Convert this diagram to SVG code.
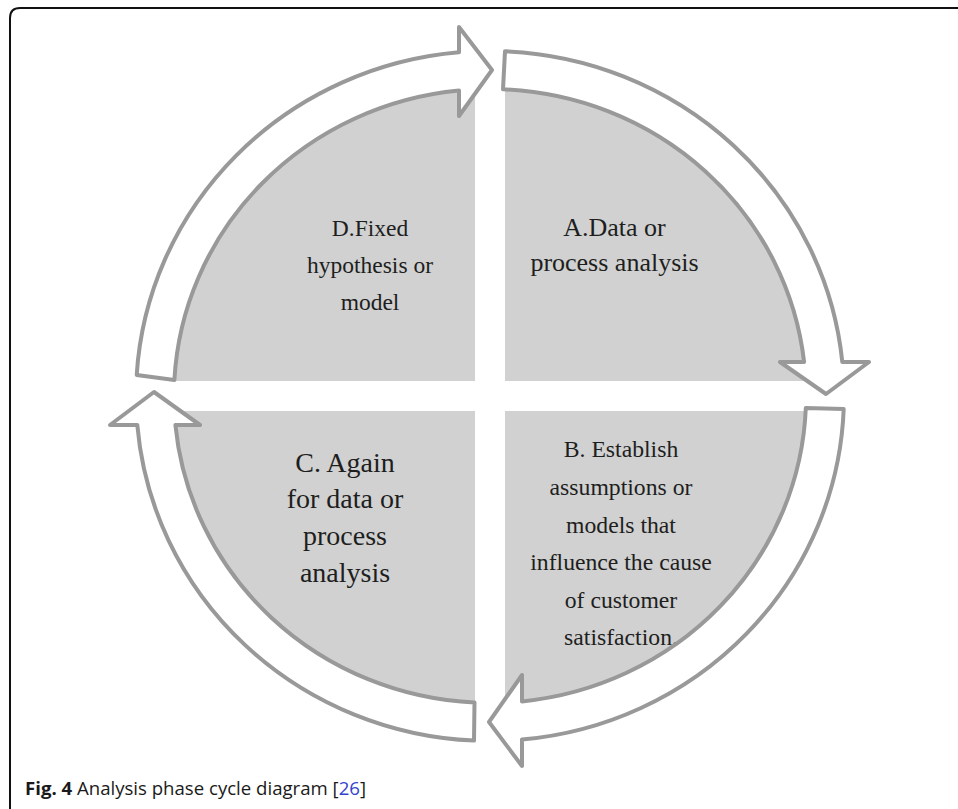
<svg xmlns="http://www.w3.org/2000/svg" width="958" height="809" viewBox="0 0 958 809">
<style>
.quad{fill:#d0d1d0;stroke:none}
.arrow{fill:#ffffff;stroke:#999999;stroke-width:4;stroke-linejoin:round}
.lbl{font-family:"Liberation Serif","Times New Roman",serif;fill:#1e1e1e;text-anchor:middle}
.cap{font-family:"Open Sans","Noto Sans",sans-serif;font-size:18.6px;fill:#1a1a1a}
</style>
<rect width="958" height="809" fill="#ffffff"/>
<path d="M10,809 L10,18 Q10,8 20,8 L958,8" fill="none" stroke="#111111" stroke-width="2"/>
<g id="node-A">
<path class="quad" d="M505,381 L505,89.35 A316,307 0 0 1 805.62,381 Z"/>
<text class="lbl" font-size="26" x="614.5" y="236">A.Data or</text>
<text class="lbl" font-size="26" x="614.5" y="271">process analysis</text>
</g>
<g id="node-B">
<path class="quad" d="M505,411 L805.62,411 A316,307 0 0 1 505,702.65 Z"/>
<text class="lbl" font-size="23.7" x="621" y="457">B. Establish</text>
<text class="lbl" font-size="23.7" x="621" y="495">assumptions or</text>
<text class="lbl" font-size="23.7" x="621" y="533">models that</text>
<text class="lbl" font-size="23.7" x="621" y="570">influence the cause</text>
<text class="lbl" font-size="23.7" x="621" y="608">of customer</text>
<text class="lbl" font-size="23.7" x="621" y="645">satisfaction.</text>
</g>
<g id="node-C">
<path class="quad" d="M475,411 L475,702.65 A316,307 0 0 1 174.38,411 Z"/>
<text class="lbl" font-size="28" x="345" y="472">C. Again</text>
<text class="lbl" font-size="28" x="345" y="508">for data or</text>
<text class="lbl" font-size="28" x="345" y="545">process</text>
<text class="lbl" font-size="28" x="345" y="582">analysis</text>
</g>
<g id="node-D">
<path class="quad" d="M475,381 L174.38,381 A316,307 0 0 1 475,89.35 Z"/>
<text class="lbl" font-size="23.5" x="370" y="236">D.Fixed</text>
<text class="lbl" font-size="23.5" x="370" y="273">hypothesis or</text>
<text class="lbl" font-size="23.5" x="370" y="310">model</text>
</g>
<g id="connectors">
<path id="arrow-D-A" class="arrow" d="M136.7,375 A354,345 0 0 1 459,52.3 L459,27 L492,70 L459,116 L459,90.5 A316,307 0 0 0 174.4,380 Z"/>
<path id="arrow-A-B" class="arrow" d="M505,51.3 A354,345 0 0 1 842.3,362 L869,362 L826,394 L780,362 L804.1,362 A316,307 0 0 0 503,89.3 Z"/>
<path id="arrow-B-C" class="arrow" d="M843.7,409 A354,345 0 0 1 522,739.6 L522,766 L489,722 L522,675 L522,701.4 A316,307 0 0 0 805.8,408 Z"/>
<path id="arrow-C-D" class="arrow" d="M474,740.6 A354,345 0 0 1 137.3,425 L110,425 L154,392 L200,425 L175.4,425 A316,307 0 0 0 474.5,702.6 Z"/>
</g>
<text class="cap" x="25" y="795"><tspan font-weight="bold">Fig. 4</tspan> Analysis phase cycle diagram [<tspan fill="#3344cc">26</tspan>]</text>
</svg>
